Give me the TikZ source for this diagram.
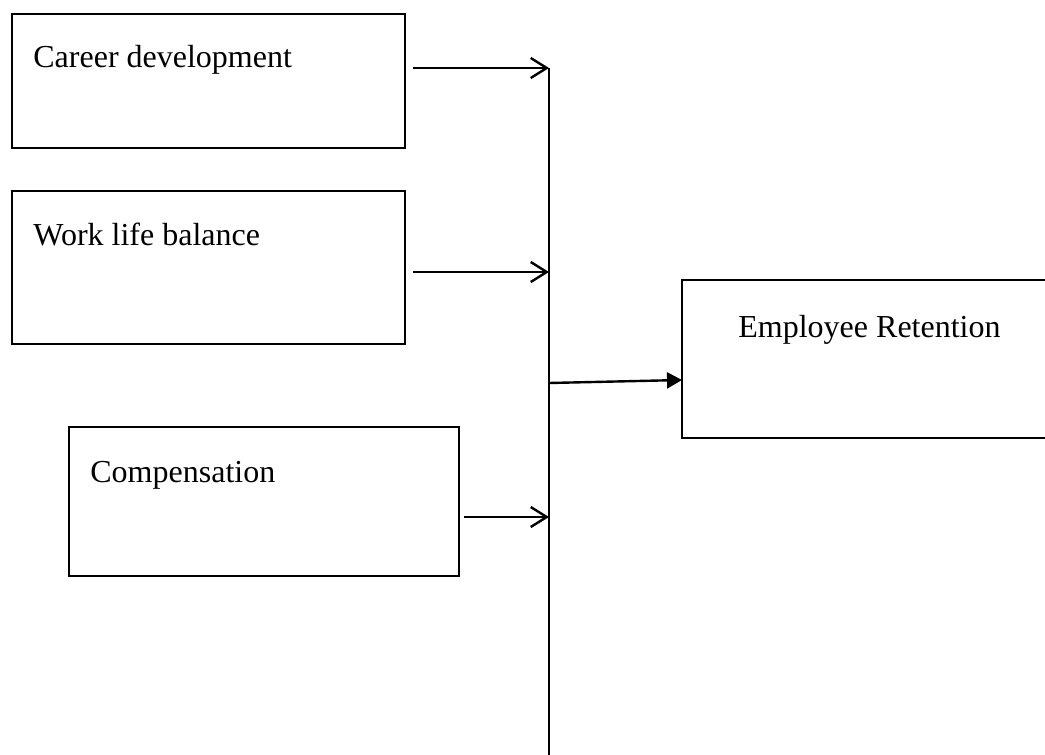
\documentclass[tikz,border=0pt]{standalone}
\usepackage{fontspec}
\setmainfont{Liberation Serif}
\usetikzlibrary{arrows.meta}
\begin{document}
\begin{tikzpicture}[x=0.5pt,y=-0.5pt,
  box/.style={draw,line width=1pt,rectangle,inner sep=0pt,outer sep=0pt,anchor=north west},
  lbl/.style={anchor=base west,inner sep=0pt,font=\fontsize{16}{19}\selectfont},
  feed/.style={line width=1.2pt,-{Straight Barb[length=8pt,width=10pt,line width=1.2pt]}},
  main/.style={line width=1.2pt,-{Triangle[length=7.5pt,width=8pt]}},
  spine/.style={line width=0.65pt}]
\useasboundingbox (0,0) rectangle (1045,755);
\clip (0,0) rectangle (1045,755);
% boxes
\node[box,minimum width=196.5pt,minimum height=67pt] (cd) at (12,14) {};
\node[box,minimum width=196.5pt,minimum height=76.5pt] (wl) at (12,191) {};
\node[box,minimum width=195pt,minimum height=74.5pt] (cp) at (69,427) {};
\node[box,minimum width=200pt,minimum height=79pt] (er) at (682,280) {};
% labels
\node[lbl] (cdt) at (33,68) {Career development};
\node[lbl] (wlt) at (33,245) {Work life balance};
\node[lbl] (cpt) at (90,482) {Compensation};
\node[lbl] (ert) at (738,337) {Employee Retention};
% spine
\coordinate (top) at (549,68);
\coordinate (bot) at (549,760);
\coordinate (j2) at (549,272);
\coordinate (j3) at (549,517);
\coordinate (jm) at (549,383);
\coordinate (em) at (682,380);
\draw[spine] (top) -- (bot);
% arrows
\draw[feed] ([xshift=4pt]cd.east |- top) -- (top);
\draw[feed] ([xshift=4pt]wl.east |- j2) -- (j2);
\draw[feed] ([xshift=2.5pt]cp.east |- j3) -- (j3);
\draw[main] (jm) -- (em);
\end{tikzpicture}
\end{document}
